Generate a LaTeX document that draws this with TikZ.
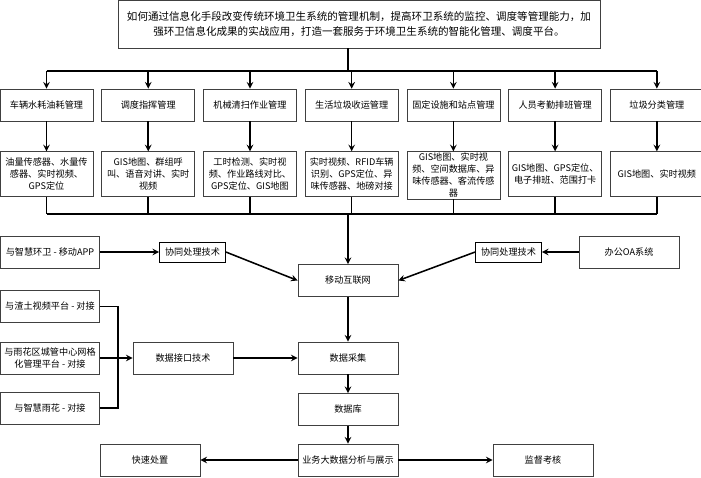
\documentclass[tikz,border=0pt]{standalone}
\usepackage{fontspec}
\setmainfont{Noto Sans CJK SC}
\usetikzlibrary{arrows,positioning}

\begin{document}
\begin{tikzpicture}[
	> = stealth, % arrow head style
	x = 0.025cm, y = -0.025cm, % pixel grid, y going down
	node distance = 0.2cm, % gap between boxes
	line width = 1.1pt % connector lines
	]
	
	\tikzstyle{box}=[
	draw = black!75,
	line width = 0.5pt,
	fill = white,
	align = center,
	inner sep = 1pt,
	font = \fontsize{6.5}{8.5}\selectfont,
	minimum width = 2.5cm,
	minimum height = 0.8cm
	]
	\tikzstyle{mgmt}=[box, minimum width = 2.325cm]
	\tikzstyle{detail}=[box, minimum width = 2.325cm, minimum height = 1.125cm]
	\tikzstyle{tech}=[box, draw = black, minimum width = 1.65cm, minimum height = 0.5cm]
	
	\useasboundingbox (0,0) rectangle (701,478);
	
	\node[box, minimum width = 12.05cm, minimum height = 1.2cm, font = \fontsize{7.5}{10.5}\selectfont] (goal) at (359,24) {如何通过信息化手段改变传统环境卫生系统的管理机制，提高环卫系统的监控、调度等管理能力，加\\强环卫信息化成果的实战应用，打造一套服务于环境卫生系统的智能化管理、调度平台。};
	
	% management modules
	\node[mgmt] (m1) at (46.5,105) {车辆水耗油耗管理};
	\node[mgmt, right = of m1] (m2) {调度指挥管理};
	\node[mgmt, right = of m2] (m3) {机械清扫作业管理};
	\node[mgmt, right = of m3] (m4) {生活垃圾收运管理};
	\node[mgmt, right = of m4] (m5) {固定设施和站点管理};
	\node[mgmt, right = of m5] (m6) {人员考勤排班管理};
	\node[mgmt, right = of m6] (m7) {垃圾分类管理};
	
	\node[detail, below = 0.75cm of m1] (d1) {油量传感器、水量传\\感器、实时视频、\\GPS定位};
	\node[detail, below = 0.75cm of m2] (d2) {GIS地图、群组呼\\叫、语音对讲、实时\\视频};
	\node[detail, below = 0.75cm of m3] (d3) {工时检测、实时视\\频、作业路线对比、\\GPS定位、GIS地图};
	\node[detail, below = 0.75cm of m4] (d4) {实时视频、RFID车辆\\识别、GPS定位、异\\味传感器、地磅对接};
	\node[detail, below = 0.75cm of m5] (d5) {GIS地图、实时视\\频、空间数据库、异\\味传感器、客流传感\\器};
	\node[detail, below = 0.75cm of m6] (d6) {GIS地图、GPS定位、\\电子排班、范围打卡};
	\node[detail, below = 0.75cm of m7] (d7) {GIS地图、实时视频};
	
	\coordinate (topbus) at (348,71);
	\coordinate (lowbus) at (348,214);
	
	% platform chain
	\node[box] (net) at (348,280.5) {移动互联网};
	\node[box] (collect) at (348,358) {数据采集};
	\node[box] (db) at (348,409.5) {数据库};
	\node[box] (show) at (348,460) {业务大数据分析与展示};
	\node[box] (quick) at (150,460) {快速处置};
	\node[box] (check) at (543,460) {监督考核};
	
	% outside systems
	\node[tech] (coopL) at (192.5,252) {协同处理技术};
	\node[tech] (coopR) at (508.5,252) {协同处理技术};
	\node[box] (oa) at (629,252) {办公OA系统};
	\node[box, minimum width = 2.475cm] (app) at (50,252) {与智慧环卫 - 移动APP};
	\node[box, minimum width = 2.475cm] (muck) at (50,306.5) {与渣土视频平台 - 对接};
	\node[box, minimum width = 2.475cm] (grid) at (50,358) {与雨花区城管中心网格\\化管理平台 - 对接};
	\node[box, minimum width = 2.475cm] (yuhua) at (50,408) {与智慧雨花 - 对接};
	\node[box] (iface) at (183,358) {数据接口技术};
	\coordinate (hub) at (118,358);
	
	\draw (goal.south -| topbus) -- (topbus);
	\draw (m1.north |- topbus) -- (m7.north |- topbus);
	\draw (d1.south |- lowbus) -- (d7.south |- lowbus);
	\foreach \i in {1,...,7} {
		\draw[->] (m\i.north |- topbus) -- (m\i.north);
		\draw[->] (m\i) -- (d\i);
		\draw (d\i.south) -- (d\i.south |- lowbus);
	}
	\draw[->] (lowbus) -- (net);
	
	\draw[->] (app) -- (coopL);
	\draw[->] (coopL.east) -- (net.west);
	\draw[->] (oa) -- (coopR);
	\draw[->] (coopR.west) -- (net.east);
	
	\draw (muck.east) -| (hub);
	\draw (yuhua.east) -| (hub);
	\draw[->] (grid) -- (iface);
	\draw[->] (iface) -- (collect);
	
	\draw[->] (net) -- (collect);
	\draw[->] (collect) -- (db);
	\draw[->] (db) -- (show);
	\draw[->] (show) -- (quick);
	\draw[->] (show) -- (check);
\end{tikzpicture}
\end{document}
